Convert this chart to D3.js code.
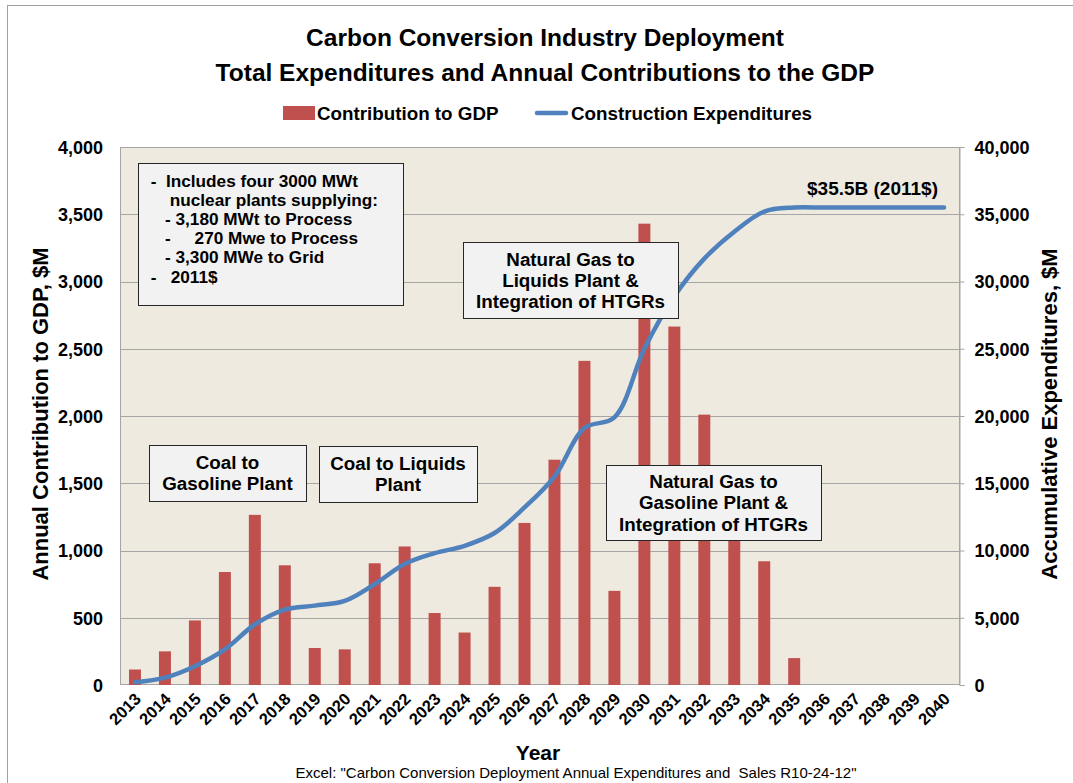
<!DOCTYPE html>
<html>
<head>
<meta charset="utf-8">
<script src="https://cdn.jsdelivr.net/npm/d3@7"></script>
<style>
  html, body { margin: 0; padding: 0; background: #ffffff; }
  svg { display: block; }
  text { font-family: "Liberation Sans", Arial, sans-serif; fill: #000; }
</style>
</head>
<body>
<svg id="chart" width="1073" height="783"></svg>
<script>
// ---- data ----
const years = d3.range(2013, 2041).map(String);
const gdpContribution = [115, 250, 480, 840, 1265, 890, 275, 265, 905, 1030, 535, 390, 730, 1205, 1675, 2410, 700, 3430, 2665, 2010, 1400, 920, 200, 0, 0, 0, 0, 0];
const constructionExpenditures = [200, 550, 1400, 2650, 4500, 5600, 5900, 6250, 7500, 9000, 9800, 10350, 11300, 13200, 15500, 19100, 19900, 25000, 28900, 31700, 33700, 35200, 35500, 35500, 35500, 35500, 35500, 35500];
const leftTicks = [0, 500, 1000, 1500, 2000, 2500, 3000, 3500, 4000];
const rightTicks = [0, 5000, 10000, 15000, 20000, 25000, 30000, 35000, 40000];

const titleLines = ["Carbon Conversion Industry Deployment", "Total Expenditures and Annual Contributions to the GDP"];
const seriesNames = ["Contribution to GDP", "Construction Expenditures"];
const noteLines = ["-  Includes four 3000 MWt", "    nuclear plants supplying:", "   - 3,180 MWt to Process", "   -     270 Mwe to Process", "   - 3,300 MWe to Grid", "-   2011$"];
const callouts = [
  { lines: ["Coal to", "Gasoline Plant"], box: [149, 445, 157, 56] },
  { lines: ["Coal to Liquids", "Plant"], box: [319, 446, 158, 56] },
  { lines: ["Natural Gas to", "Liquids Plant &", "Integration of HTGRs"], box: [463, 242, 215, 76] },
  { lines: ["Natural Gas to", "Gasoline Plant &", "Integration of HTGRs"], box: [606, 465, 215, 75] }
];
const endLabel = "$35.5B (2011$)";

// ---- layout ----
const svg = d3.select("#chart");
const plot = { left: 120, right: 959, top: 147, bottom: 685 };
const barColor = "#C0504D";
const lineColor = "#4F81BD";
const gridColor = "#A6A6A6";

const x = d3.scaleBand().domain(years).range([plot.left, plot.right]).paddingInner(0.6).paddingOuter(0.3);
const yLeft = d3.scaleLinear().domain([0, 4000]).range([plot.bottom, plot.top]);
const yRight = d3.scaleLinear().domain([0, 40000]).range([plot.bottom, plot.top]);
const fmt = d3.format(",");

// outer chart frame
svg.append("rect").attr("x", 7.5).attr("y", 5.5).attr("width", 1200).attr("height", 900)
  .attr("fill", "none").attr("stroke", "#A0A0A0").attr("stroke-width", 1);

// plot background
svg.append("rect").attr("x", plot.left).attr("y", plot.top)
  .attr("width", plot.right - plot.left).attr("height", plot.bottom - plot.top)
  .attr("fill", "#EEEAE0");

// horizontal gridlines
svg.append("g").selectAll("line").data(leftTicks.slice(1, -1)).join("line")
  .attr("x1", plot.left).attr("x2", plot.right)
  .attr("y1", d => Math.round(yLeft(d)) + 0.5).attr("y2", d => Math.round(yLeft(d)) + 0.5)
  .attr("stroke", gridColor).attr("stroke-width", 1);

// plot border
svg.append("rect").attr("x", plot.left + 0.5).attr("y", plot.top + 0.5)
  .attr("width", plot.right - plot.left).attr("height", plot.bottom - plot.top - 1)
  .attr("fill", "none").attr("stroke", gridColor).attr("stroke-width", 1);

// bars
svg.append("g").selectAll("rect").data(years.map((yr, i) => ({ yr, v: gdpContribution[i] })).filter(d => d.v > 0))
  .join("rect")
  .attr("x", d => x(d.yr))
  .attr("width", x.bandwidth())
  .attr("y", d => yLeft(d.v))
  .attr("height", d => yLeft(0) - yLeft(d.v))
  .attr("fill", barColor);

// left axis
const leftAxis = d3.axisLeft(yLeft).tickValues(leftTicks).tickFormat(fmt).tickSize(0).tickPadding(17);
const gL = svg.append("g").attr("transform", `translate(${plot.left},0)`).call(leftAxis);
gL.select(".domain").remove();
gL.selectAll("text").style("font-size", "18px").style("font-weight", "bold").attr("dy", "0.36em");

// right axis
const rightAxis = d3.axisRight(yRight).tickValues(rightTicks).tickFormat(fmt).tickSize(5).tickPadding(10);
const gR = svg.append("g").attr("transform", `translate(${plot.right + 0.5},0)`).call(rightAxis);
gR.select(".domain").attr("stroke", gridColor);
gR.selectAll(".tick line").attr("stroke", gridColor);
gR.selectAll("text").style("font-size", "18px").style("font-weight", "bold").attr("dy", "0.36em");

// bottom axis labels, slanted
const gB = svg.append("g").attr("transform", `translate(0,${plot.bottom})`).call(d3.axisBottom(x).tickSize(0));
gB.select(".domain").remove();
gB.selectAll("text")
  .style("font-size", "16.5px").style("font-weight", "bold")
  .attr("text-anchor", "end")
  .attr("y", 0).attr("dy", 0)
  .attr("transform", "translate(7,15) rotate(-45)");

// expenditure line
const line = d3.line()
  .x((d, i) => x(years[i]) + x.bandwidth() / 2)
  .y(d => yRight(d))
  .curve(d3.curveCatmullRom.alpha(0.5));
svg.append("path").datum(constructionExpenditures)
  .attr("d", line).attr("fill", "none")
  .attr("stroke", lineColor).attr("stroke-width", 4.5).attr("stroke-linecap", "round");

// end label
svg.append("text").attr("x", 938).attr("y", 195).attr("text-anchor", "end")
  .style("font-size", "19px").style("font-weight", "bold").text(endLabel);

// note box
const note = svg.append("g");
note.append("rect").attr("x", 138.5).attr("y", 163.5).attr("width", 265).attr("height", 142)
  .attr("fill", "#F2F2F2").attr("stroke", "#262626").attr("stroke-width", 1);
note.selectAll("text").data(noteLines).join("text")
  .attr("x", 150.7).attr("y", (d, i) => 186.5 + i * 19.2)
  .style("font-size", "17.2px").style("font-weight", "bold").style("white-space", "pre")
  .text(d => d);

// callout boxes
callouts.forEach(c => {
  const [bx, by, bw, bh] = c.box;
  const g = svg.append("g");
  g.append("rect").attr("x", bx + 0.5).attr("y", by + 0.5).attr("width", bw).attr("height", bh)
    .attr("fill", "#F2F2F2").attr("stroke", "#262626").attr("stroke-width", 1);
  const lh = 21.3;
  const cy = by + bh / 2;
  g.selectAll("text").data(c.lines).join("text")
    .attr("x", bx + bw / 2)
    .attr("y", (d, i) => cy + (i - (c.lines.length - 1) / 2) * lh + 6.8)
    .attr("text-anchor", "middle")
    .style("font-size", "18.8px").style("font-weight", "bold")
    .text(d => d);
});

// titles
svg.selectAll(".title").data(titleLines).join("text").attr("class", "title")
  .attr("x", 545).attr("y", (d, i) => 46 + i * 35)
  .attr("text-anchor", "middle")
  .style("font-size", "24.5px").style("font-weight", "bold")
  .text(d => d);

// legend
const legend = svg.append("g");
legend.append("rect").attr("x", 283).attr("y", 106).attr("width", 32).attr("height", 14).attr("fill", barColor);
legend.append("text").attr("x", 317).attr("y", 119.5).style("font-size", "18.8px").style("font-weight", "bold").text(seriesNames[0]);
legend.append("line").attr("x1", 537).attr("x2", 566).attr("y1", 113).attr("y2", 113)
  .attr("stroke", lineColor).attr("stroke-width", 4.5).attr("stroke-linecap", "round");
legend.append("text").attr("x", 571).attr("y", 119.5).style("font-size", "18.8px").style("font-weight", "bold").text(seriesNames[1]);

// axis titles
svg.append("text").attr("transform", "translate(48,414) rotate(-90)").attr("text-anchor", "middle")
  .style("font-size", "22px").style("font-weight", "bold").text("Annual Contribution to GDP, $M");
svg.append("text").attr("transform", "translate(1057,414) rotate(-90)").attr("text-anchor", "middle")
  .style("font-size", "22px").style("font-weight", "bold").text("Accumulative Expenditures, $M");
svg.append("text").attr("x", 538).attr("y", 760).attr("text-anchor", "middle")
  .style("font-size", "21px").style("font-weight", "bold").text("Year");
svg.append("text").attr("x", 576).attr("y", 778).attr("text-anchor", "middle")
  .style("font-family", "'Liberation Sans Narrow', 'Arial Narrow', 'Liberation Sans', sans-serif")
  .style("font-size", "15px").style("white-space", "pre")
  .text("Excel: \"Carbon Conversion Deployment Annual Expenditures and  Sales R10-24-12\"");
</script>
</body>
</html>
